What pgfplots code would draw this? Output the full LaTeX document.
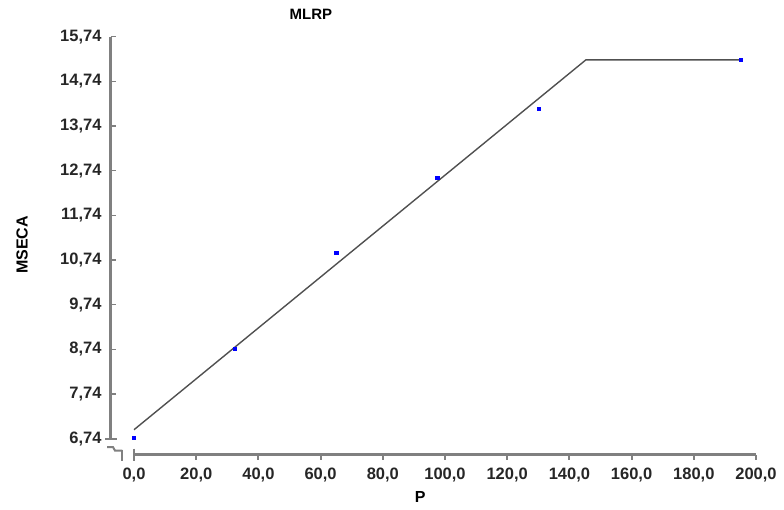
\documentclass[border=0pt]{standalone}
\usepackage{pgfplots}
\pgfplotsset{compat=1.18}
\usepackage{fontspec}
\setmainfont{Liberation Sans}
\definecolor{axgray}{RGB}{128,128,128}
\definecolor{linegray}{RGB}{80,80,80}
\begin{document}
\begin{tikzpicture}
\begin{axis}[
  scale only axis,
  width=645pt, height=418pt,
  xmin=-7.4, xmax=200, ymin=6.382, ymax=15.74,
  axis x line=bottom, axis y line=left,
  axis line style={draw=none},
  clip=false,
  xtick={0,20,...,200},
  ytick={6.74,7.74,8.74,9.74,10.74,11.74,12.74,13.74,14.74,15.74},
  yticklabels={6{,}74,7{,}74,8{,}74,9{,}74,10{,}74,11{,}74,12{,}74,13{,}74,14{,}74,15{,}74},
  x tick label style={/pgf/number format/fixed,/pgf/number format/fixed zerofill,/pgf/number format/precision=1,/pgf/number format/use comma},
  /pgf/number format/assume math mode=true,
  ticklabel style={font=\fontsize{16.5}{18}\selectfont\bfseries, text=black!85},
  x tick style={draw=axgray, line width=2pt},
  y tick style={draw=axgray, line width=1.5pt},
  xtick align=outside, ytick align=inside,
  major tick length=5pt,
  yticklabel style={xshift=-6pt},
  xticklabel style={yshift=-5pt},
]
% bounding box
\path (axis cs:-43.09,5.152) rectangle (axis cs:209.0,16.56);
% axis lines
\draw[axgray, line width=3pt] (axis cs:-7.4,6.74) -- (axis cs:-7.4,15.74);
\draw[axgray, line width=2.5pt] (axis cs:0,6.382) -- (axis cs:200,6.382);
% break symbols
\draw[axgray, line width=2pt] (axis cs:-9.32,6.74) -- (axis cs:-5.47,6.74);
\draw[axgray, line width=2pt] (axis cs:-8.68,6.55) -- (axis cs:-6.75,6.55) -- (axis cs:-6.11,6.472) -- (axis cs:-3.86,6.472);
\draw[axgray, line width=2pt] (axis cs:-3.86,6.494) -- (axis cs:-3.86,6.248);
\draw[axgray, line width=2pt] (axis cs:0,6.516) -- (axis cs:0,6.248);
% fitted line
\addplot[linegray, line width=1.4pt, mark=none] coordinates {(0,6.94) (145.3,15.22) (195,15.22)};
% observed points
\addplot[only marks, mark=square*, mark size=1.6pt, blue, mark options={draw=blue,fill=blue}] coordinates {
(0,6.76) (32.5,8.75) (65,10.90) (97.5,12.58) (130,14.12) (195,15.22)};
% labels
\node[font=\fontsize{15}{17}\selectfont\bfseries] at (axis cs:56.9,16.23) {MLRP};
\node[font=\fontsize{16}{18}\selectfont\bfseries] at (axis cs:92.0,5.44) {P};
\node[font=\fontsize{16}{18}\selectfont\bfseries, rotate=90] at (axis cs:-36.0,11.08) {MSECA};
\end{axis}
\end{tikzpicture}
\end{document}
